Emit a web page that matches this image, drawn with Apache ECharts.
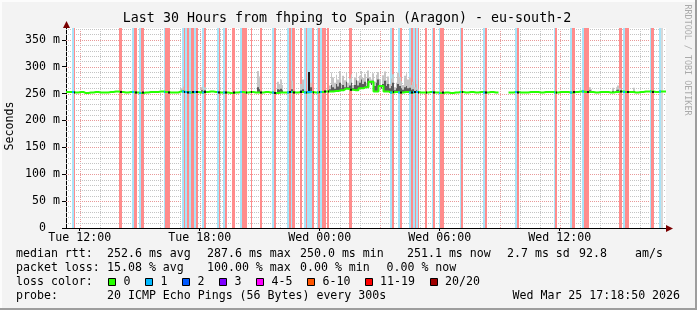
<!DOCTYPE html>
<html><head><meta charset="utf-8">
<script src="https://cdn.jsdelivr.net/npm/echarts@6/dist/echarts.min.js"></script>
<style>html,body{margin:0;padding:0;background:#f3f3f3}#c{width:697px;height:310px}</style>
</head><body><div id="c"></div>
<script>
// ---------- data ----------
const START_HOUR = 11 + 18/60 + 50/3600;   // Tue 11:18:50, hours since Tue 00:00
const END_HOUR = START_HOUR + 30;
const Y_MAX = 372;
const xTickHours = [12, 18, 24, 30, 36];
const xTickLabels = ['Tue 12:00', 'Tue 18:00', 'Wed 00:00', 'Wed 06:00', 'Wed 12:00'];
const yTickValues = [0, 50, 100, 150, 200, 250, 300, 350];
const yTickLabels = ['0  ', '50 m', '100 m', '150 m', '200 m', '250 m', '300 m', '350 m'];

// loss bands (hours since Tue 00:00), kind: b = light blue, p = pink, g = grey
const lossFrom = [11.599,11.689,13.979,14.614,14.714,14.979,15.049,16.199,16.264,17.114,
  17.214,17.279,17.379,17.464,17.579,17.714,17.799,18.114,18.189,18.849,
  18.949,19.179,19.279,19.614,19.999,20.114,20.539,20.989,21.599,21.714,
  22.349,22.464,22.549,22.599,23.014,23.214,23.314,23.379,23.599,23.839,
  23.929,24.029,24.099,24.364,25.479,27.514,27.614,27.929,27.999,28.479,
  28.579,28.649,28.749,28.814,28.889,29.249,29.589,29.679,29.939,30.029,
  30.999,31.064,32.149,32.249,33.764,33.839,35.714,35.779,36.499,36.589,
  37.129,37.229,38.964,39.164,39.249,40.499,40.579,40.949,41.079];
const lossTo = [11.689,11.779,14.114,14.714,14.864,15.049,15.214,16.264,16.514,17.214,
  17.279,17.379,17.464,17.579,17.714,17.799,17.889,18.189,18.289,18.949,
  19.014,19.279,19.364,19.739,20.114,20.379,20.629,21.114,21.714,21.789,
  22.464,22.549,22.599,22.739,23.114,23.314,23.379,23.599,23.729,23.929,
  24.029,24.099,24.299,24.479,25.614,27.614,27.729,27.999,28.114,28.579,
  28.649,28.749,28.814,28.889,28.979,29.379,29.679,29.764,30.029,30.189,
  31.064,31.179,32.249,32.364,33.839,33.964,35.779,35.879,36.589,36.764,
  37.229,37.464,39.089,39.249,39.464,40.579,40.714,41.079,41.149];
const lossKind = ['b','p','p','b','p','b','p','b','p','b',
  'p','b','p','b','p','b','p','b','p','b',
  'p','b','p','p','b','p','p','p','b','p',
  'b','p','b','p','p','b','p','b','p','b',
  'p','b','p','p','p','b','p','b','p','b',
  'p','b','p','b','p','p','b','p','b','p',
  'b','p','b','p','b','p','b','p','b','p',
  'b','p','p','b','p','b','p','b','g'];

// median rtt (ms), one value every 15 minutes from START_HOUR
const medianStepHours = 0.25;
const medianValues = [
  253,253,252,253,251,252,253,252,252,253,
  254,253,252,253,252,251,252,253,253,254,
  253,252,252,254,253,252,253,252,253,254,
  253,252,252,251,252,253,252,253,252,252,
  253,252,251,252,252,253,252,253,252,253,
  252,253,254,254,255,256,259,257,256,260,
  262,272,254,264,254,252,253,252,253,252,
  253,252,252,253,252,251,252,251,252,253,
  252,253,252,253,252,253,252,null,null,252,
  253,252,252,253,253,252,253,253,252,253,
  253,252,253,254,253,253,252,253,253,252,
  253,254,253,253,252,253,254,254,253,254,
  254];

// smoke (ping spread), 5-minute columns: start hour, top of light smoke, top of dark smoke
const smokeHour = [17.06,17.14,18.06,18.14,18.22,20.86,20.94,21.86,21.94,22.02,22.10,22.56,23.01,23.11,23.41,23.51,
  24.46,24.54,24.63,24.71,24.79,24.88,24.96,25.04,25.13,25.21,25.29,25.38,25.46,25.54,25.63,25.71,25.79,25.88,
  25.96,26.04,26.13,26.21,26.29,26.38,26.46,26.54,26.63,26.71,26.79,26.88,26.96,27.04,27.13,27.21,27.29,27.38,
  27.46,27.54,27.63,27.71,27.79,27.88,27.96,28.04,28.13,28.21,28.29,28.38,28.46,28.54,28.63,28.71,28.79,28.88,
  37.46,37.54,38.61,38.79,38.88,38.96,39.66];
const smokeTop = [260,263,262,258,262,292,282,272,268,276,266,274,268,276,290,270,
  265,289,280,270,285,276,292,268,283,275,289,270,278,286,266,280,290,274,
  283,292,279,287,270,293,281,276,288,272,285,290,277,266,284,291,275,282,
  268,278,286,262,270,289,281,273,266,283,288,276,280,266,272,262,268,258,
  262,258,261,262,265,260,261];
const smokeMid = [255,256,256,255,256,262,258,258,257,259,256,258,256,258,290,262,
  258,266,262,259,268,263,270,260,266,262,272,262,265,270,260,266,275,265,
  270,276,268,272,264,278,270,266,274,264,270,276,266,259,268,274,264,268,
  260,264,270,256,260,268,264,260,257,262,264,260,261,257,258,255,256,254,
  256,255,255,256,257,255,255];

const legendColors = ['#26ff00','#00b8ff','#0059ff','#7e00ff','#ff00ff','#ff5500','#ff0000','#a00000'];
const legendNames = ['0','1','2','3','4-5','6-10','11-19','20/20'];

// ---------- styling ----------
const MONO = '"DejaVu Sans Mono", "Liberation Mono", monospace';
const FS = 11.6;
const GRID = {left: 66, top: 28, width: 600, height: 200};
const lossColor = {b: '#a8e4f8', p: '#ff8c8c', g: '#d8d8d8'};
const kindList = ['b','p','g'];

function medianAt(h) {
  let k = Math.round((h - START_HOUR) / medianStepHours);
  k = Math.max(0, Math.min(medianValues.length - 1, k));
  let v = medianValues[k];
  let d = 1;
  while (v == null && d < 5) { v = medianValues[k - d] ?? medianValues[k + d]; d++; }
  return v;
}

const medianData = medianValues.map((v, k) => [START_HOUR + k * medianStepHours, v]);
const lossData = lossFrom.map((f, i) => [f, lossTo[i], kindList.indexOf(lossKind[i])]);
const smokeData = smokeHour.map((h, i) => [h, smokeTop[i], smokeMid[i], medianAt(h + 1/24)]);
const overlayData = [];
lossFrom.forEach((f, i) => {
  if (lossKind[i] === 'b') overlayData.push([f, lossTo[i], medianAt((f + lossTo[i]) / 2), 0]);
  if (lossKind[i] === 'p') overlayData.push([lossTo[i] - 1/12, lossTo[i], medianAt(lossTo[i]), 1]);
});
const gridData = [];
for (let h = Math.ceil(START_HOUR); h <= END_HOUR; h++) gridData.push([0, h, h % 3 === 0 ? 1 : 0]);
for (let v = 10; v <= Y_MAX; v += 10) gridData.push([1, v, v % 50 === 0 ? 1 : 0]);

const chart = echarts.init(document.getElementById('c'), null, {renderer: 'canvas', width: 697, height: 310});

function txt(text, x, y, opts) {
  return Object.assign({type: 'text', x: x, y: y, silent: true, style: Object.assign({
    text: text, fill: '#000', font: FS + 'px ' + MONO, fontSize: FS, fontFamily: MONO,
    textAlign: 'left', textVerticalAlign: 'middle', align: 'left', verticalAlign: 'middle'
  }, (opts && opts.style) || {})}, (opts && opts.el) || {});
}

const graphics = [];
// frame
graphics.push({type: 'rect', shape: {x: 0, y: 0, width: 697, height: 2}, style: {fill: '#fcfcfc'}, silent: true});
graphics.push({type: 'rect', shape: {x: 0, y: 0, width: 2, height: 310}, style: {fill: '#fcfcfc'}, silent: true});
graphics.push({type: 'rect', shape: {x: 0, y: 308, width: 697, height: 2}, style: {fill: '#9d9d9d'}, silent: true});
graphics.push({type: 'rect', shape: {x: 695, y: 0, width: 2, height: 310}, style: {fill: '#9d9d9d'}, silent: true});
// title and side texts
graphics.push(txt('Last 30 Hours from fhping to Spain (Aragon) - eu-south-2', 347, 19,
  {style: {font: '13.3px ' + MONO, fontSize: 13.3, textAlign: 'center', align: 'center'}}));
graphics.push(txt('Seconds', 10, 126, {style: {textAlign: 'center', align: 'center'}, el: {rotation: Math.PI / 2}}));
graphics.push(txt('RRDTOOL / TOBI OETIKER', 687, 60, {style: {font: '8.4px ' + MONO, fontSize: 8.4, fill: '#aaaaaa', textAlign: 'center', align: 'center'},
  el: {rotation: -Math.PI / 2}}));
// arrows
graphics.push({type: 'polygon', shape: {points: [[GRID.left + 0.5, 21], [GRID.left - 3, 28], [GRID.left + 4, 28]]}, style: {fill: '#7a0000'}, silent: true, z: 10});
const ax = GRID.left + GRID.width;
graphics.push({type: 'polygon', shape: {points: [[ax + 7, 228.5], [ax, 225], [ax, 232]]}, style: {fill: '#7a0000'}, silent: true, z: 10});
// legend rows
const rowY = [254.3, 268.3, 282.3, 296];
const legendRows = [
  [[16, 'median rtt:'], [107, '252.6 ms avg'], [207, '287.6 ms max'], [300, '250.0 ms min'], [407, '251.1 ms now'], [507, '2.7 ms sd'], [579, '92.8'], [635, 'am/s']],
  [[16, 'packet loss:'], [107, '15.08 % avg'], [207, '100.00 % max'], [300, '0.00 % min'], [386.5, '0.00 % now']],
  [[16, 'loss color:']],
  [[16, 'probe:'], [107, '20 ICMP Echo Pings (56 Bytes) every 300s'], [512.5, 'Wed Mar 25 17:18:50 2026']]
];
legendRows.forEach((row, r) => row.forEach(([x, t]) => graphics.push(txt(t, x, rowY[r]))));
const boxX = [108.5, 145.5, 182.5, 219.5, 256.5, 307.5, 365.5, 430.5];
const nameX = [123.5, 160.5, 197.5, 234.5, 271.5, 322.5, 380, 445];
legendColors.forEach((c, i) => {
  graphics.push({type: 'rect', shape: {x: boxX[i], y: 278.5, width: 7, height: 7}, style: {fill: c, stroke: '#000', lineWidth: 1}, silent: true});
  graphics.push(txt(legendNames[i], nameX[i], rowY[2]));
});

const option = {
  animation: false,
  backgroundColor: '#f3f3f3',
  grid: Object.assign({show: true, backgroundColor: '#ffffff', borderWidth: 0, containLabel: false}, GRID),
  xAxis: {
    type: 'value', min: START_HOUR, max: END_HOUR,
    axisLine: {show: true, onZero: false, lineStyle: {color: '#000', width: 1}},
    axisTick: {show: true, customValues: xTickHours, length: 3, lineStyle: {color: '#000'}},
    axisLabel: {customValues: xTickHours, margin: 4, color: '#000', fontFamily: MONO, fontSize: FS,
      formatter: v => { const i = xTickHours.findIndex(h => Math.abs(h - v) < 1e-6); return i >= 0 ? xTickLabels[i] : ''; }},
    splitLine: {show: false}
  },
  yAxis: {
    type: 'value', min: 0, max: Y_MAX,
    axisLine: {show: true, onZero: false, lineStyle: {color: '#000', width: 1}},
    axisTick: {show: true, customValues: yTickValues, length: 4, lineStyle: {color: '#000'}},
    axisLabel: {customValues: yTickValues, margin: 6, color: '#000', fontFamily: MONO, fontSize: FS,
      formatter: v => { const i = yTickValues.indexOf(v); return i >= 0 ? yTickLabels[i] : ''; }},
    splitLine: {show: false}
  },
  graphic: {elements: graphics},
  series: [
    { // grid lines
      type: 'custom', z: 1, silent: true, data: gridData, clip: true,
      renderItem: (params, api) => {
        const kind = api.value(0), v = api.value(1), major = api.value(2);
        let x1, y1, x2, y2;
        if (kind === 0) {
          const a = api.coord([v, 0]), b = api.coord([v, Y_MAX]);
          x1 = x2 = Math.round(a[0]) + 0.5; y1 = a[1]; y2 = b[1];
        } else {
          const a = api.coord([START_HOUR, v]), b = api.coord([END_HOUR, v]);
          y1 = y2 = Math.round(a[1]) + 0.5; x1 = a[0]; x2 = b[0];
        }
        return {type: 'line', shape: {x1, y1, x2, y2},
          style: {stroke: major ? '#e89a9a' : '#c4c4c4', lineWidth: 1, lineDash: [1, 1]}};
      }
    },
    { // loss bands
      type: 'custom', z: 2, silent: true, data: lossData, clip: true,
      renderItem: (params, api) => {
        const a = api.coord([api.value(0), Y_MAX]), b = api.coord([api.value(1), 0]);
        const x0 = Math.round(a[0]), x1 = Math.max(Math.round(b[0]), x0 + 1);
        return {type: 'rect', shape: {x: x0, y: a[1], width: x1 - x0, height: b[1] - a[1]},
          style: {fill: lossColor[kindList[api.value(2)]]}};
      }
    },
    { // smoke
      type: 'custom', z: 3, silent: true, data: smokeData, clip: true,
      renderItem: (params, api) => {
        const h = api.value(0), top = api.value(1), mid = api.value(2), base = api.value(3);
        const a = api.coord([h, top]), m = api.coord([h, mid]), b = api.coord([h + 1/12, base]);
        const x0 = Math.round(a[0]), x1 = Math.max(Math.round(b[0]), x0 + 1);
        const dark = (mid >= top) ? '#1a1a1a' : '#5a5a5a';
        return {type: 'group', children: [
          {type: 'rect', shape: {x: x0, y: a[1], width: x1 - x0, height: b[1] - a[1]}, style: {fill: '#c6c6c6'}},
          {type: 'rect', shape: {x: x0, y: m[1], width: x1 - x0, height: b[1] - m[1]}, style: {fill: dark}}
        ]};
      }
    },
    { // median
      type: 'line', z: 4, silent: true, data: medianData, showSymbol: false, connectNulls: false,
      step: 'middle', lineStyle: {color: '#26ff00', width: 2}, itemStyle: {color: '#26ff00'}
    },
    { // median colour overlays
      type: 'custom', z: 5, silent: true, data: overlayData, clip: true,
      renderItem: (params, api) => {
        const a = api.coord([api.value(0), api.value(2)]), b = api.coord([api.value(1), api.value(2)]);
        const x0 = Math.round(a[0]), x1 = Math.max(Math.round(b[0]), x0 + 1);
        return {type: 'rect', shape: {x: x0, y: a[1] - 1, width: x1 - x0, height: 2},
          style: {fill: api.value(3) === 0 ? '#00b8ff' : '#111111'}};
      }
    }
  ]
};
chart.setOption(option);
</script>
</body></html>
